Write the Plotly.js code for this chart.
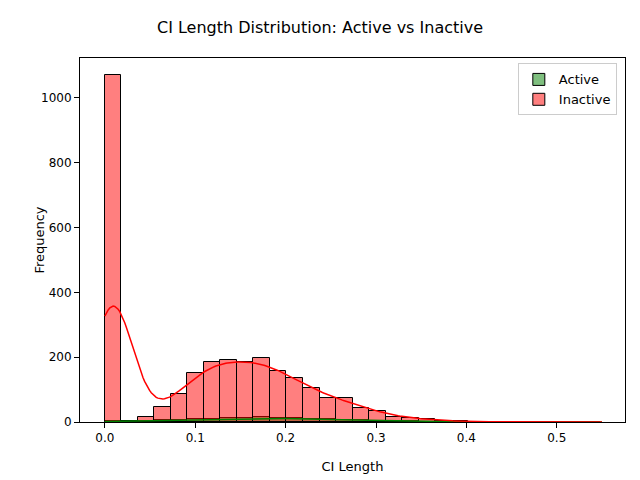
<!DOCTYPE html><html><head><script src="https://cdn.plot.ly/plotly-3.0.1.min.js"></script></head><body style="margin:0"><div id="c" style="width:640px;height:480px"></div><script>
const binStart=0, binWidth=0.01827;
const inactive=[1070,4,15,47,85,151,186,190,184,197,157,135,106,73,73,44,33,16,13,8,4,2,1,1,1,0,0,1,0,1];
const active=[2,3,4,5,6,8,9,11,12,14,12,12,10,8,7,5,4,3,2,1,1,1,0,0,0,0,0,0,0,1];
const centers=inactive.map((_,i)=>binStart+(i+0.5)*binWidth);
function kde(counts,h){const n=counts.reduce((a,b)=>a+b,0);const xs=[],ys=[];for(let k=0;k<=300;k++){const x=k*0.55/300;let s=0;counts.forEach((c,i)=>{const z=(x-centers[i])/h;s+=c*Math.exp(-0.5*z*z)/(h*Math.sqrt(2*Math.PI));});xs.push(x);ys.push(s*binWidth);}return {xs,ys};}
const ki=kde(inactive,0.022), ka=kde(active,0.04);
const data=[
{type:'bar',x:centers,y:active,width:binWidth,name:'Active',marker:{color:'rgba(0,128,0,0.5)',line:{color:'black',width:1}}},
{type:'bar',x:centers,y:inactive,width:binWidth,name:'Inactive',marker:{color:'rgba(255,0,0,0.5)',line:{color:'black',width:1}}},
{type:'scatter',mode:'lines',x:ka.xs,y:ka.ys,line:{color:'green',width:1.5},showlegend:false},
{type:'scatter',mode:'lines',x:ki.xs,y:ki.ys,line:{color:'red',width:1.5},showlegend:false}];
const ax={showgrid:false,zeroline:false,showline:true,mirror:true,linecolor:'black',ticks:'outside',tickcolor:'black',tickfont:{size:12}};
Plotly.newPlot('c',data,{barmode:'overlay',bargap:0,width:640,height:480,paper_bgcolor:'white',plot_bgcolor:'white',
font:{family:'DejaVu Sans',color:'black'},
title:{text:'CI Length Distribution: Active vs Inactive',x:0.5,y:0.955,font:{size:16}},
margin:{l:80,r:15,t:58,b:58},
xaxis:Object.assign({},ax,{range:[-0.0275,0.5755],tickvals:[0,0.1,0.2,0.3,0.4,0.5],ticktext:['0.0','0.1','0.2','0.3','0.4','0.5'],title:{text:'CI Length',font:{size:13}}}),
yaxis:Object.assign({},ax,{range:[0,1123],tickvals:[0,200,400,600,800,1000],title:{text:'Frequency',font:{size:13}}}),
legend:{x:0.985,y:0.985,xanchor:'right',yanchor:'top',bordercolor:'#ccc',borderwidth:1,font:{size:13}},
showlegend:true},{displayModeBar:false});
</script></body></html>
